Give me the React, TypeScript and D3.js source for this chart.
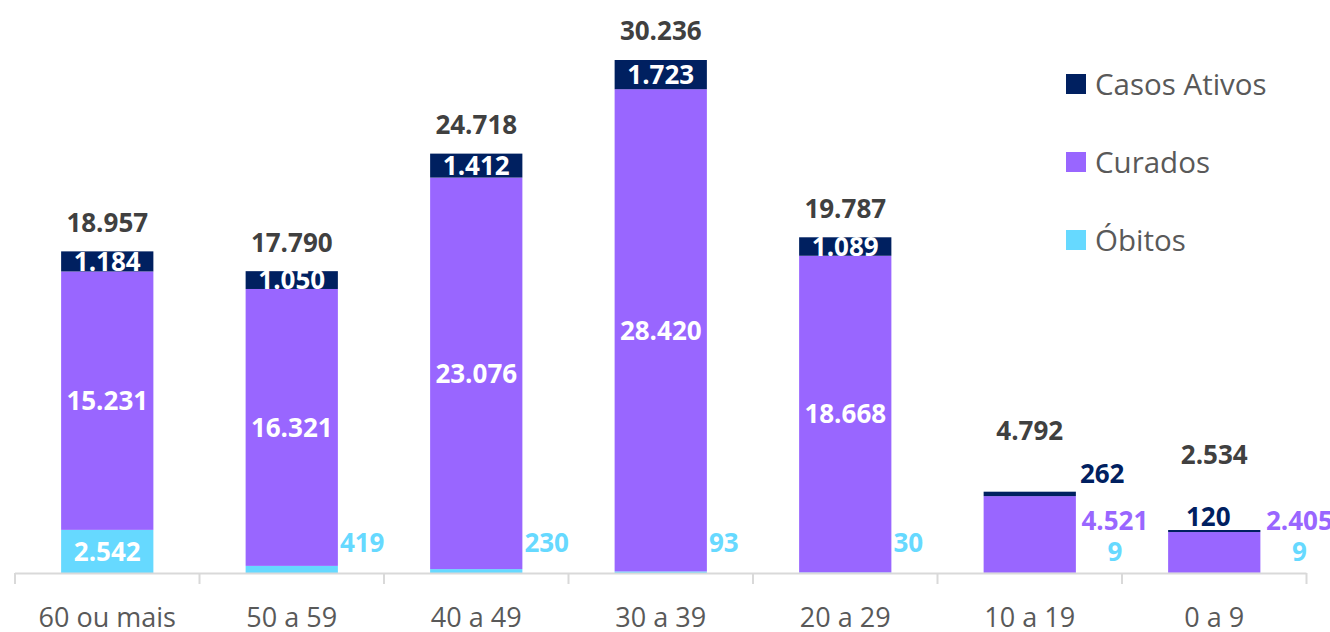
import React from "react";
import * as d3 from "d3";

const categories = ["60 ou mais", "50 a 59", "40 a 49", "30 a 39", "20 a 29", "10 a 19", "0 a 9"];
const obitos = [2542, 419, 230, 93, 30, 9, 9];
const curados = [15231, 16321, 23076, 28420, 18668, 4521, 2405];
const ativos = [1184, 1050, 1412, 1723, 1089, 262, 120];
const totals = [18957, 17790, 24718, 30236, 19787, 4792, 2534];
const seriesNames = ["Casos Ativos", "Curados", "Óbitos"];

const COLORS: Record<string, string> = {
  "Casos Ativos": "#002060",
  Curados: "#9966FF",
  "Óbitos": "#66D9FF",
};

// label gap above the stack for the total labels (px)
const totalGap = [29, 29, 29, 29, 29, 61, 75];

const W = 1330;
const H = 632;
const FONT = "'Open Sans', 'Noto Sans', sans-serif";
const LF = 26;

const fmt = (v: number) => String(v).replace(/\B(?=(\d{3})+(?!\d))/g, ".");

export default function App() {
  const x = d3.scaleBand<string>().domain(categories).range([15, 1306.5]).paddingInner(0.5).paddingOuter(0.25);
  const y = d3.scaleLinear().domain([0, 30236]).range([573, 60]);
  const bw = x.bandwidth();
  const step = x.step();

  const rows = categories.map((c, i) => ({ c, o: obitos[i], cu: curados[i], a: ativos[i], t: totals[i] }));

  return (
    <svg width={W} height={H} style={{ position: "absolute", left: 0, top: 0 }} fontFamily={FONT}>
      <rect width={W} height={H} fill="#fff" />
      {rows.map((r, i) => {
        const x0 = x(r.c)!;
        const cx = x0 + bw / 2;
        const yO = y(r.o);
        const yC = y(r.o + r.cu);
        const yA = y(r.o + r.cu + r.a);
        const base = y(0);
        const small = r.t < 10000;
        const outX = x0 + bw + 3;
        return (
          <g key={r.c}>
            <rect x={x0} y={yO} width={bw} height={base - yO} fill={COLORS["Óbitos"]} />
            <rect x={x0} y={yC} width={bw} height={yO - yC} fill={COLORS.Curados} />
            <rect x={x0} y={yA} width={bw} height={yC - yA} fill={COLORS["Casos Ativos"]} />
            <text x={cx} y={yA - totalGap[i]} dy="0.36em" textAnchor="middle" fontSize={LF} fontWeight={700} fill="#404040">
              {fmt(r.t)}
            </text>
            {!small ? (
              <text x={cx} y={(yA + yC) / 2} dy="0.36em" textAnchor="middle" fontSize={LF} fontWeight={700} fill="#fff">
                {fmt(r.a)}
              </text>
            ) : i === 5 ? (
              <text x={outX + 1} y={yA - 18} dy="0.36em" textAnchor="start" fontSize={LF} fontWeight={700} fill={COLORS["Casos Ativos"]}>
                {fmt(r.a)}
              </text>
            ) : (
              <text x={cx - 6} y={yA - 13} dy="0.36em" textAnchor="middle" fontSize={LF} fontWeight={700} fill={COLORS["Casos Ativos"]}>
                {fmt(r.a)}
              </text>
            )}
            {!small ? (
              <text x={cx} y={(yC + yO) / 2} dy="0.36em" textAnchor="middle" fontSize={LF} fontWeight={700} fill="#fff">
                {fmt(r.cu)}
              </text>
            ) : (
              <text x={outX + 36} y={base - 52} dy="0.36em" textAnchor="middle" fontSize={LF} fontWeight={700} fill={COLORS.Curados}>
                {fmt(r.cu)}
              </text>
            )}
            {r.o > 1000 ? (
              <text x={cx} y={(yO + base) / 2} dy="0.36em" textAnchor="middle" fontSize={LF} fontWeight={700} fill="#fff">
                {fmt(r.o)}
              </text>
            ) : small ? (
              <text x={outX + 36} y={base - 21} dy="0.36em" textAnchor="middle" fontSize={LF} fontWeight={700} fill={COLORS["Óbitos"]}>
                {fmt(r.o)}
              </text>
            ) : (
              <text x={outX - 1} y={base - 30} dy="0.36em" textAnchor="start" fontSize={LF} fontWeight={700} fill={COLORS["Óbitos"]}>
                {fmt(r.o)}
              </text>
            )}
            <text x={cx} y={base + 44} dy="0.36em" textAnchor="middle" fontSize={27} fill="#595959">
              {r.c}
            </text>
          </g>
        );
      })}
      <line x1={15} x2={1306.5} y1={y(0) + 0.5} y2={y(0) + 0.5} stroke="#d9d9d9" strokeWidth={2} />
      {d3.range(categories.length + 1).map((k) => {
        const tx = 15 + k * step;
        return <line key={k} x1={tx} x2={tx} y1={y(0)} y2={y(0) + 11} stroke="#d9d9d9" strokeWidth={2} />;
      })}
      {seriesNames.map((s, i) => (
        <g key={s} transform={`translate(1066, ${84 + i * 78})`}>
          <rect x={0} y={-10} width={20} height={20} fill={COLORS[s]} />
          <text x={29} y={0} dy="0.36em" fontSize={29.5} fill="#595959">
            {s}
          </text>
        </g>
      ))}
    </svg>
  );
}
